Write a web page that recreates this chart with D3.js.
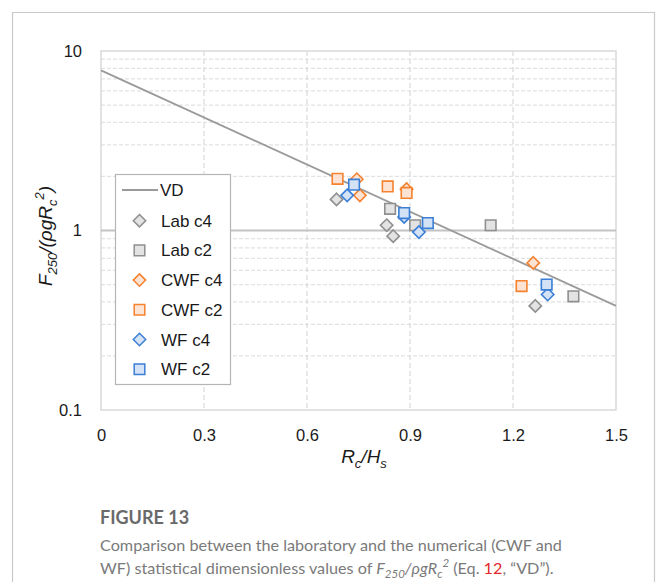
<!DOCTYPE html>
<html>
<head>
<meta charset="utf-8">
<script src="https://cdn.jsdelivr.net/npm/d3@7"></script>
<style>
  html, body { margin: 0; padding: 0; background: #fff; }
  svg { display: block; }
</style>
</head>
<body>
<svg id="chart" width="656" height="582"></svg>
<script>
// Reference line "VD" (straight on the log axis)
const vdX = [0, 1.5];
const vdY = [7.8, 0.38];

// Measured / simulated points per series
const labC4X = [0.686, 0.832, 0.851, 1.265];
const labC4Y = [1.49, 1.07, 0.93, 0.38];
const labC2X = [0.842, 0.915, 1.135, 1.376];
const labC2Y = [1.32, 1.07, 1.07, 0.43];
const cwfC4X = [0.745, 0.754, 0.89, 1.259];
const cwfC4Y = [1.93, 1.57, 1.70, 0.66];
const cwfC2X = [0.689, 0.835, 0.89, 1.225];
const cwfC2Y = [1.94, 1.76, 1.62, 0.49];
const wfC4X = [0.717, 0.883, 0.926, 1.301];
const wfC4Y = [1.57, 1.19, 0.98, 0.44];
const wfC2X = [0.737, 0.883, 0.952, 1.298];
const wfC2Y = [1.80, 1.25, 1.10, 0.50];

const seriesNames = ["Lab c4", "Lab c2", "CWF c4", "CWF c2", "WF c4", "WF c2"];
const xTicks = [0, 0.3, 0.6, 0.9, 1.2, 1.5];
const xTickLabels = ["0", "0.3", "0.6", "0.9", "1.2", "1.5"];
const yTicks = [0.1, 1, 10];
const yTickLabels = ["0.1", "1", "10"];

const styles = {
  gray:   { stroke: "#8f8f8f", fill: "#e3e3e3" },
  orange: { stroke: "#f5822f", fill: "#fde3d4" },
  blue:   { stroke: "#3b7fd6", fill: "#d3e2f5" }
};

const series = [
  { name: seriesNames[0], x: labC4X, y: labC4Y, shape: "diamond", style: styles.gray },
  { name: seriesNames[1], x: labC2X, y: labC2Y, shape: "square",  style: styles.gray },
  { name: seriesNames[2], x: cwfC4X, y: cwfC4Y, shape: "diamond", style: styles.orange },
  { name: seriesNames[3], x: cwfC2X, y: cwfC2Y, shape: "square",  style: styles.orange },
  { name: seriesNames[4], x: wfC4X,  y: wfC4Y,  shape: "diamond", style: styles.blue },
  { name: seriesNames[5], x: wfC2X,  y: wfC2Y,  shape: "square",  style: styles.blue }
];

const svg = d3.select("#chart");
const font = "'Liberation Sans', Arial, sans-serif";

// Card frame
svg.append("path")
  .attr("d", "M12.5,600 V12.5 H654.5 V600")
  .attr("fill", "none").attr("stroke", "#c9c9c9").attr("stroke-width", 1.2);

const plot = { left: 101, right: 616, top: 51, bottom: 410 };
const x = d3.scaleLinear().domain([0, 1.5]).range([plot.left, plot.right]);
const y = d3.scaleLog().domain([0.1, 10]).range([plot.bottom, plot.top]);

// Minor horizontal gridlines
const minor = [];
[0.1, 1].forEach(d => { for (let k = 2; k <= 9; k++) minor.push(d * k); });
svg.append("g").selectAll("line").data(minor).join("line")
  .attr("x1", plot.left).attr("x2", plot.right)
  .attr("y1", d => y(d)).attr("y2", d => y(d))
  .attr("stroke", "#e2e2e2").attr("stroke-width", 1.2)
  .attr("stroke-dasharray", "4,2");

// Vertical gridlines
svg.append("g").selectAll("line").data(xTicks.slice(1, -1)).join("line")
  .attr("x1", d => x(d)).attr("x2", d => x(d))
  .attr("y1", plot.top).attr("y2", plot.bottom)
  .attr("stroke", "#d9d9d9").attr("stroke-width", 1.2)
  .attr("stroke-dasharray", "5,3");

// Plot border
svg.append("rect")
  .attr("x", plot.left).attr("y", plot.top)
  .attr("width", plot.right - plot.left).attr("height", plot.bottom - plot.top)
  .attr("fill", "none").attr("stroke", "#d9d9d9").attr("stroke-width", 1.5);

// Horizontal axis line crossing at 1
svg.append("line")
  .attr("x1", plot.left).attr("x2", plot.right)
  .attr("y1", y(1)).attr("y2", y(1))
  .attr("stroke", "#c3c3c3").attr("stroke-width", 2);

// Axis tick labels through d3 axes (no domain/ticks drawn)
const xAxis = svg.append("g")
  .attr("transform", `translate(0,${plot.bottom + 16})`)
  .call(d3.axisBottom(x).tickValues(xTicks).tickFormat((d, i) => xTickLabels[i]).tickSize(0));
xAxis.select(".domain").remove();
xAxis.selectAll("text").attr("font-family", font).attr("font-size", 16.5).attr("fill", "#1a1a1a");

const yAxis = svg.append("g")
  .attr("transform", `translate(${plot.left - 16},0)`)
  .call(d3.axisLeft(y).tickValues(yTicks).tickFormat((d, i) => yTickLabels[i]).tickSize(0));
yAxis.select(".domain").remove();
yAxis.selectAll("text").attr("font-family", font).attr("font-size", 16.5).attr("fill", "#1a1a1a");

// VD line
svg.append("path")
  .datum(vdX.map((d, i) => [d, vdY[i]]))
  .attr("d", d3.line().x(d => x(d[0])).y(d => y(d[1])))
  .attr("fill", "none").attr("stroke", "#9a9a9a").attr("stroke-width", 1.8);

// Marker shapes
function markerPath(shape) {
  if (shape === "square") { const h = 5.3; return `M${-h},${-h}H${h}V${h}H${-h}Z`; }
  const r = 6.2; return `M0,${-r}L${r},0L0,${r}L${-r},0Z`;
}

series.forEach(s => {
  svg.append("g").selectAll("path").data(s.x.map((d, i) => [d, s.y[i]])).join("path")
    .attr("transform", d => `translate(${x(d[0])},${y(d[1])})`)
    .attr("d", markerPath(s.shape))
    .attr("fill", s.style.fill).attr("stroke", s.style.stroke).attr("stroke-width", 1.6);
});

// Legend
const lg = svg.append("g");
lg.append("rect").attr("x", 115.5).attr("y", 174.5).attr("width", 115).attr("height", 210)
  .attr("fill", "#fff").attr("stroke", "#b5b5b5").attr("stroke-width", 1.2);
lg.append("line").attr("x1", 122).attr("x2", 158).attr("y1", 190).attr("y2", 190)
  .attr("stroke", "#9a9a9a").attr("stroke-width", 1.8);
lg.append("text").attr("x", 160).attr("y", 196).text("VD")
  .attr("font-family", font).attr("font-size", 17).attr("fill", "#1a1a1a");
series.forEach((s, i) => {
  const cy = 220.7 + i * 29.7;
  lg.append("path").attr("transform", `translate(139.5,${cy})`)
    .attr("d", markerPath(s.shape))
    .attr("fill", s.style.fill).attr("stroke", s.style.stroke).attr("stroke-width", 1.5);
  lg.append("text").attr("x", 161).attr("y", cy + 6).text(s.name)
    .attr("font-family", font).attr("font-size", 17).attr("fill", "#1a1a1a");
});

// Axis titles
const xt = svg.append("text").attr("x", 364).attr("y", 463).attr("text-anchor", "middle")
  .attr("font-family", font).attr("font-size", 19).attr("font-style", "italic").attr("fill", "#1a1a1a");
xt.append("tspan").text("R");
xt.append("tspan").attr("font-size", 13).attr("dy", 5).text("c");
xt.append("tspan").attr("dy", -5).text("/H");
xt.append("tspan").attr("font-size", 13).attr("dy", 5).text("s");

const yt = svg.append("text").attr("transform", "translate(52,236) rotate(-90)").attr("text-anchor", "middle")
  .attr("font-family", font).attr("font-size", 19).attr("font-style", "italic").attr("fill", "#1a1a1a");
yt.append("tspan").text("F");
yt.append("tspan").attr("font-size", 13).attr("dy", 5).text("250");
yt.append("tspan").attr("dy", -5).text("/(ρgR");
yt.append("tspan").attr("font-size", 13).attr("dy", 5).text("c");
yt.append("tspan").attr("font-size", 13).attr("dy", -13).text("2");
yt.append("tspan").attr("dy", 8).text(")");

// Caption
const capFont = "Lato, 'Open Sans', sans-serif";
svg.append("text").attr("x", 100).attr("y", 524).text("FIGURE 13")
  .attr("font-family", capFont).attr("font-size", 18).attr("font-weight", 700).attr("fill", "#6a6a6a");
svg.append("text").attr("x", 100).attr("y", 551)
  .attr("font-family", capFont).attr("font-size", 16.2).attr("fill", "#7a7a7a")
  .text("Comparison between the laboratory and the numerical (CWF and");
const c2 = svg.append("text").attr("x", 100).attr("y", 574)
  .attr("font-family", capFont).attr("font-size", 16.2).attr("fill", "#7a7a7a");
c2.append("tspan").text("WF) statistical dimensionless values of ");
c2.append("tspan").attr("font-style", "italic").text("F");
c2.append("tspan").attr("font-style", "italic").attr("font-size", 11.5).attr("dy", 4).text("250");
c2.append("tspan").attr("font-style", "italic").attr("dy", -4).text("/ρgR");
c2.append("tspan").attr("font-style", "italic").attr("font-size", 11.5).attr("dy", 4).text("c");
c2.append("tspan").attr("font-style", "italic").attr("font-size", 11.5).attr("dy", -11).text("2");
c2.append("tspan").attr("dy", 7).text(" (Eq. ");
c2.append("tspan").attr("fill", "#e3262b").text("12");
c2.append("tspan").text(", “VD”).");
</script>
</body>
</html>
